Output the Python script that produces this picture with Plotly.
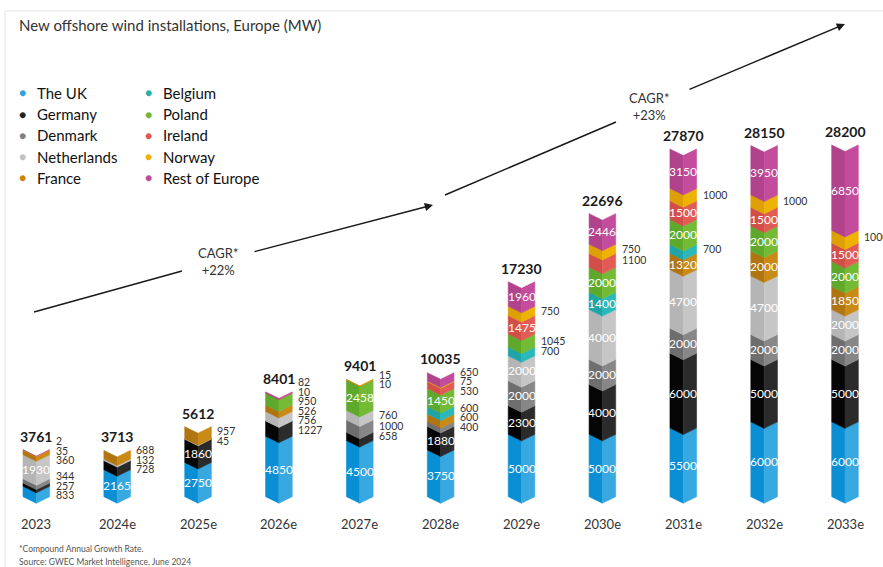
import plotly.graph_objects as go

# ---------------- data ----------------
years = ["2023", "2024e", "2025e", "2026e", "2027e", "2028e", "2029e", "2030e", "2031e", "2032e", "2033e"]
totals = [3761, 3713, 5612, 8401, 9401, 10035, 17230, 22696, 27870, 28150, 28200]
countries = ["The UK", "Germany", "Denmark", "Netherlands", "France",
             "Belgium", "Poland", "Ireland", "Norway", "Rest of Europe"]
uk          = [833, 2165, 2750, 4850, 4500, 3750, 5000, 5000, 5500, 6000, 6000]
germany     = [257, 728, 1860, 1227, 658, 1880, 2300, 4000, 6000, 5000, 5000]
denmark     = [344, 0, 0, 0, 1000, 400, 2000, 2000, 2000, 2000, 2000]
netherlands = [1930, 132, 45, 756, 760, 0, 2000, 4000, 4700, 4700, 2000]
france      = [360, 688, 957, 526, 0, 600, 0, 0, 1320, 2000, 1850]
belgium     = [0, 0, 0, 0, 0, 600, 700, 1400, 700, 0, 0]
poland      = [0, 0, 0, 950, 2458, 1450, 1045, 2000, 2000, 2000, 2000]
ireland     = [0, 0, 0, 10, 10, 530, 1475, 1100, 1500, 1500, 1500]
norway      = [35, 0, 0, 0, 15, 75, 750, 750, 1000, 1000, 1000]
rest        = [2, 0, 0, 82, 0, 650, 1960, 2446, 3150, 3950, 6850]
series = [uk, germany, denmark, netherlands, france, belgium, poland, ireland, norway, rest]

# ---------------- styles ----------------
dot_colors = ["#2ea3dd", "#222222", "#808080", "#c2c2c2", "#c8860f",
              "#26b0b0", "#6bb838", "#e05550", "#f0b000", "#c0489a"]
left_colors = ["#0a8fd4", "#050505", "#6e6e6e", "#b5b5b5", "#b07410",
               "#1fa4a8", "#5ea82c", "#d24e48", "#dda000", "#b0438c"]
right_colors = ["#37a8e0", "#2b2b2b", "#878787", "#c6c6c6", "#c98a16",
                "#2bb8bb", "#74bb35", "#e25c55", "#eeb200", "#c44c9c"]

W, H = 883, 567
PX_PER_MW = 0.012472
BASE_PX = 496.7
X0_PX, STEP_PX = 36.3, 80.87
HW = 13.3 / STEP_PX            # half bar width in category units
DEPTH = 6.5 / PX_PER_MW        # chevron depth in MW
SPACING = 9.5 / PX_PER_MW      # min spacing of outside labels
INSIDE_MIN = 1300
FONT = "Lato"

fig = go.Figure()

# ---------------- chevron bars ----------------
for k, vals in enumerate(series):
    lx, ly, rx, ry = [], [], [], []
    for i, v in enumerate(vals):
        if v <= 0:
            continue
        b = sum(s[i] for s in series[:k])
        t = b + v
        lx += [i - HW, i, i, i - HW, i - HW, None]
        ly += [b, b - DEPTH, t - DEPTH, t, b, None]
        rx += [i, i + HW, i + HW, i, i, None]
        ry += [b - DEPTH, b, t, t - DEPTH, b - DEPTH, None]
    fig.add_trace(go.Scatter(x=lx, y=ly, mode="lines", fill="toself",
                             fillcolor=left_colors[k],
                             line=dict(color=left_colors[k], width=0.6),
                             hoverinfo="skip", showlegend=False))
    fig.add_trace(go.Scatter(x=rx, y=ry, mode="lines", fill="toself",
                             fillcolor=right_colors[k],
                             line=dict(color=right_colors[k], width=0.6),
                             hoverinfo="skip", showlegend=False))

annotations = []


def ann(**kw):
    kw.setdefault("xanchor", "center")
    kw.setdefault("yanchor", "middle")
    kw.setdefault("showarrow", False)
    annotations.append(kw)


# ---------------- value labels ----------------
for i in range(len(years)):
    outside = []
    for k, vals in enumerate(series):
        v = vals[i]
        if v <= 0:
            continue
        b = sum(s[i] for s in series[:k])
        mid = b + v / 2
        if v >= INSIDE_MIN:
            ann(x=i, y=mid - DEPTH * 0.4, xref="x", yref="y", text=str(v),
                font=dict(family=FONT, size=12, color="white"))
        else:
            outside.append((mid, v))
    # de-overlap outside labels (cluster + center)
    clusters = []
    for mid, v in outside:
        clusters.append({"des": [mid], "vals": [v]})
        while len(clusters) > 1:
            a, c = clusters[-2], clusters[-1]
            ca = sum(a["des"]) / len(a["des"])
            cc = sum(c["des"]) / len(c["des"])
            top_a = ca + (len(a["des"]) - 1) / 2 * SPACING
            bot_c = cc - (len(c["des"]) - 1) / 2 * SPACING
            if bot_c - top_a < SPACING:
                a["des"] += c["des"]
                a["vals"] += c["vals"]
                clusters.pop()
            else:
                break
    for cl in clusters:
        n = len(cl["des"])
        cen = sum(cl["des"]) / n
        for j, v in enumerate(cl["vals"]):
            y = cen + (j - (n - 1) / 2) * SPACING
            ann(x=i + HW, y=y, xref="x", yref="y", xanchor="left", xshift=4,
                text=str(v), font=dict(family=FONT, size=10.5, color="#333333"))
    # totals
    ann(x=i, y=totals[i], xref="x", yref="y", yanchor="bottom", yshift=3,
        text="<b>%d</b>" % totals[i], font=dict(family=FONT, size=14, color="#1a1a1a"))
    # year labels
    ann(x=i, y=1 - 524 / H, xref="x", yref="paper", text=years[i],
        font=dict(family=FONT, size=13, color="#333333"))

# ---------------- legend ----------------
for k, name in enumerate(countries):
    col, row = divmod(k, 5)
    dx = 22 if col == 0 else 148
    y = 93 + row * 21.2
    ann(x=dx / W, y=1 - y / H, xref="paper", yref="paper",
        text="<span style='color:%s'>●</span>" % dot_colors[k],
        font=dict(family=FONT, size=12))
    ann(x=(dx + 13) / W, y=1 - y / H, xref="paper", yref="paper", xanchor="left",
        text=name, font=dict(family=FONT, size=15, color="#111111"))

# ---------------- title & notes ----------------
ann(x=17 / W, y=1 - 25 / H, xref="paper", yref="paper", xanchor="left",
    text="New offshore wind installations, Europe (MW)",
    font=dict(family=FONT, size=15, color="#333333"))
ann(x=17 / W, y=1 - 549 / H, xref="paper", yref="paper", xanchor="left",
    text="*Compound Annual Growth Rate.", font=dict(family=FONT, size=8.5, color="#555555"))
ann(x=17 / W, y=1 - 562 / H, xref="paper", yref="paper", xanchor="left",
    text="Source: GWEC Market Intelligence, June 2024",
    font=dict(family=FONT, size=8.5, color="#555555"))


# ---------------- CAGR arrows ----------------
def P(x, y):
    return x / W, 1 - y / H


shapes = []
for (s0, s1, a0, a1, tx, label) in [
        ((34, 312), (182, 271), (253, 252), (433, 205), 218, "CAGR*<br>+22%"),
        ((445, 195), (616, 122), (688, 90), (845, 24), 649, "CAGR*<br>+23%")]:
    x0, y0 = P(*s0)
    x1, y1 = P(*s1)
    shapes.append(dict(type="line", xref="paper", yref="paper", x0=x0, y0=y0, x1=x1, y1=y1,
                       line=dict(color="#1a1a1a", width=1.5)))
    hx, hy = P(*a1)
    ann(x=hx, y=hy, xref="paper", yref="paper", text="", showarrow=True,
        ax=a0[0] - a1[0], ay=a0[1] - a1[1], arrowhead=2, arrowsize=1.1,
        arrowwidth=1.5, arrowcolor="#1a1a1a")
    ty = (s1[1] + a0[1]) / 2
    ann(x=tx / W, y=1 - ty / H, xref="paper", yref="paper", text=label, align="center",
        font=dict(family=FONT, size=13, color="#333333"))

# frame lines
shapes.append(dict(type="line", xref="paper", yref="paper", x0=5 / W, x1=1, y0=1 - 11 / H, y1=1 - 11 / H,
                   line=dict(color="#ececec", width=1.5)))
shapes.append(dict(type="line", xref="paper", yref="paper", x0=5 / W, x1=5 / W, y0=0, y1=1 - 11 / H,
                   line=dict(color="#ececec", width=1.5)))

fig.update_layout(
    width=W, height=H,
    margin=dict(l=0, r=0, t=0, b=0),
    paper_bgcolor="white", plot_bgcolor="white",
    xaxis=dict(range=[-X0_PX / STEP_PX, (W - X0_PX) / STEP_PX], visible=False, fixedrange=True),
    yaxis=dict(range=[-(H - BASE_PX) / PX_PER_MW, BASE_PX / PX_PER_MW], visible=False, fixedrange=True),
    annotations=annotations,
    shapes=shapes,
    showlegend=False,
)

fig.write_html("out.html", config={"displayModeBar": False},
               post_script="document.body.style.margin='0';document.body.style.overflow='hidden';")
